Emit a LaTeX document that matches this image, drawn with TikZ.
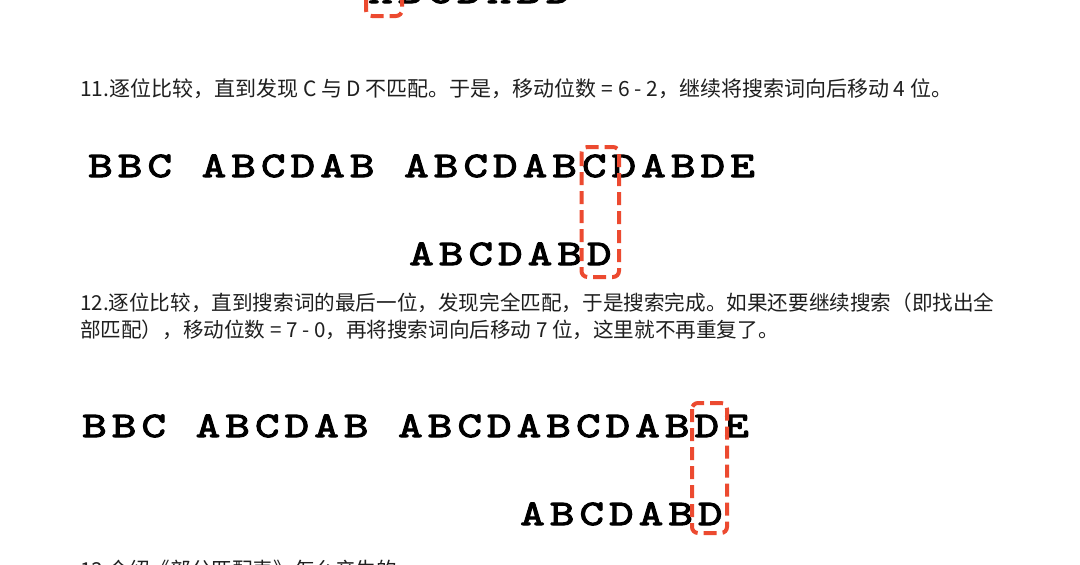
\documentclass[tikz,border=0pt]{standalone}
\usepackage{fontspec}
\newfontfamily\cjk{Noto Sans CJK SC}
\newfontfamily\kmpmono[FakeStretch=1.3,LetterSpace=14.1,FakeBold=3]{lmmono10-regular.otf}
\definecolor{hlred}{RGB}{236,74,48}
\tikzset{
  mono/.style={font=\kmpmono\fontsize{36}{36}\selectfont, anchor=base west, inner sep=0pt, text=black},
  cn/.style={font=\cjk\fontsize{21}{21}\selectfont, anchor=base west, inner sep=0pt, text=black!88},
  cnb/.style={cn, font=\cjk\fontsize{20.6}{20.6}\selectfont},
  hlbox/.style={draw=hlred, line width=4pt, dash pattern=on 13pt off 6pt, rounded corners=6pt},
}
\begin{document}
\begin{tikzpicture}[x=1pt,y=-1pt]
\useasboundingbox (0,0) rectangle (1080,565);
\fill[white] (0,0) rectangle (1080,565);
\clip (0,0) rectangle (1080,565);

% cut-off previous step at top
\node[mono] (prev) at (368,3) {ABCDABD};
\draw[hlbox] (366,-140) rectangle (402,16);

% step 11
\node[cn] (t11) at (80,96) {11.逐位比较，直到发现 C 与 D 不匹配。于是，移动位数 = 6 - 2，继续将搜索词向后移动 4 位。};
\node[mono] (s1) at (88,177) {BBC ABCDAB ABCDABCDABDE};
\node[mono] (p1) at (409,265) {ABCDABD};
\draw[hlbox] (581.5,147) rectangle (619,277);

% step 12
\node[cnb] (t12a) at (80,310) {12.逐位比较，直到搜索词的最后一位，发现完全匹配，于是搜索完成。如果还要继续搜索（即找出全};
\node[cnb] (t12b) at (80,337) {部匹配），移动位数 = 7 - 0，再将搜索词向后移动 7 位，这里就不再重复了。};
\node[mono] (s2) at (82,437) {BBC ABCDAB ABCDABCDABDE};
\node[mono] (p2) at (520,525) {ABCDABD};
\draw[hlbox] (692,403) rectangle (727,533);

% cut-off next step at bottom
\node[cnb] (t13) at (80,577) {13.介绍《部分匹配表》怎么产生的};
\end{tikzpicture}
\end{document}
